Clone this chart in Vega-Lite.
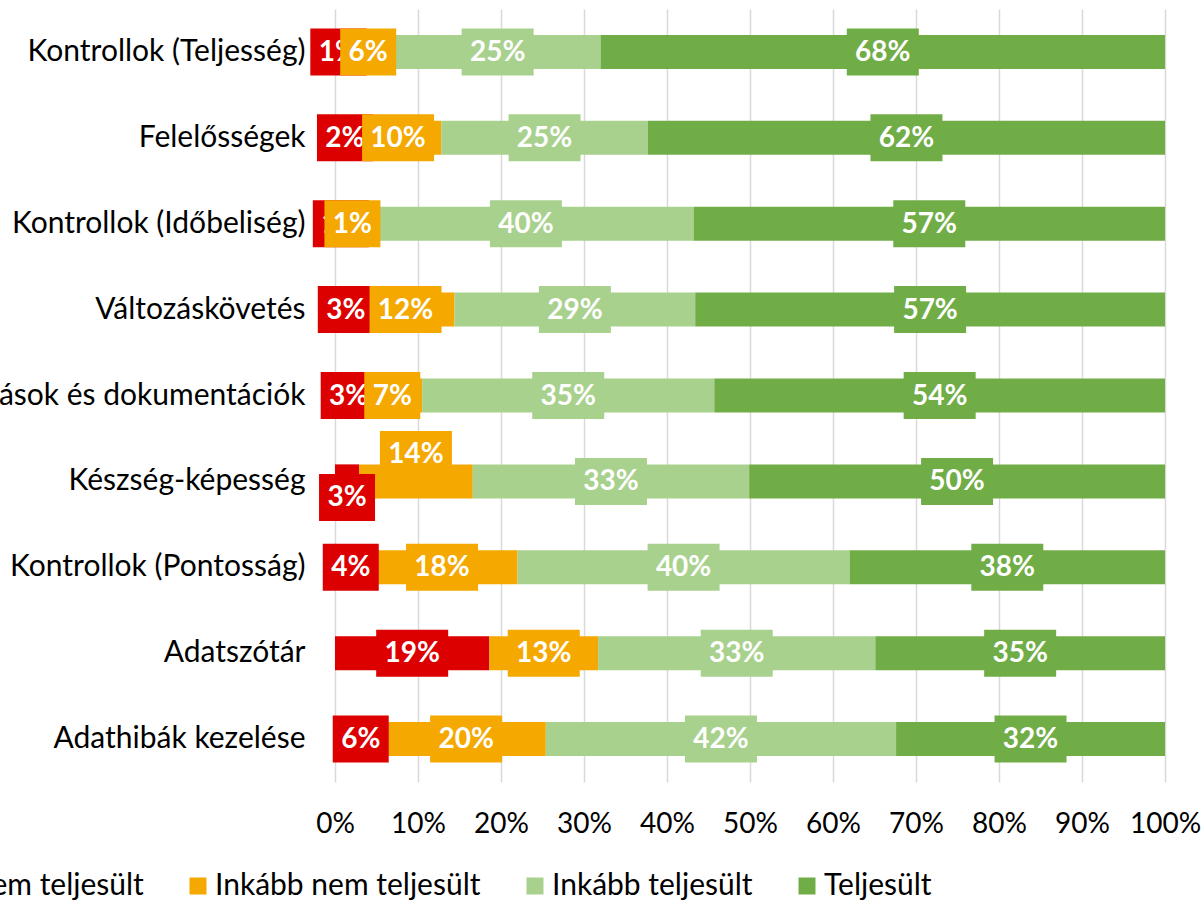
{
  "$schema": "https://vega.github.io/schema/vega-lite/v6.json",
  "width": 830,
  "height": 773,
  "autosize": {"type": "none"},
  "padding": {"left": 335, "top": 9, "right": 39, "bottom": 119},
  "config": {"view": {"stroke": null}, "font": "Lato"},
  "data": {
    "values": [
      {"cat": "Kontrollok (Teljesség)", "series": "Nem teljesült", "value": 0.8, "label": "1%"},
      {"cat": "Kontrollok (Teljesség)", "series": "Inkább nem teljesült", "value": 6.4, "label": "6%"},
      {"cat": "Kontrollok (Teljesség)", "series": "Inkább teljesült", "value": 24.8, "label": "25%"},
      {"cat": "Kontrollok (Teljesség)", "series": "Teljesült", "value": 68.0, "label": "68%"},
      {"cat": "Felelősségek", "series": "Nem teljesült", "value": 2.4, "label": "2%"},
      {"cat": "Felelősségek", "series": "Inkább nem teljesült", "value": 10.4, "label": "10%"},
      {"cat": "Felelősségek", "series": "Inkább teljesült", "value": 24.9, "label": "25%"},
      {"cat": "Felelősségek", "series": "Teljesült", "value": 62.3, "label": "62%"},
      {"cat": "Kontrollok (Időbeliség)", "series": "Nem teljesült", "value": 1.4, "label": "1%"},
      {"cat": "Kontrollok (Időbeliség)", "series": "Inkább nem teljesült", "value": 1.4, "label": "1%"},
      {"cat": "Kontrollok (Időbeliség)", "series": "Inkább teljesült", "value": 40.4, "label": "40%"},
      {"cat": "Kontrollok (Időbeliség)", "series": "Teljesült", "value": 56.8, "label": "57%"},
      {"cat": "Változáskövetés", "series": "Nem teljesült", "value": 2.6, "label": "3%"},
      {"cat": "Változáskövetés", "series": "Inkább nem teljesült", "value": 11.8, "label": "12%"},
      {"cat": "Változáskövetés", "series": "Inkább teljesült", "value": 29.0, "label": "29%"},
      {"cat": "Változáskövetés", "series": "Teljesült", "value": 56.6, "label": "57%"},
      {"cat": "Utasítások és dokumentációk", "series": "Nem teljesült", "value": 3.3, "label": "3%"},
      {"cat": "Utasítások és dokumentációk", "series": "Inkább nem teljesült", "value": 7.2, "label": "7%"},
      {"cat": "Utasítások és dokumentációk", "series": "Inkább teljesült", "value": 35.2, "label": "35%"},
      {"cat": "Utasítások és dokumentációk", "series": "Teljesült", "value": 54.3, "label": "54%"},
      {"cat": "Készség-képesség", "series": "Nem teljesült", "value": 2.9, "label": "3%"},
      {"cat": "Készség-képesség", "series": "Inkább nem teljesült", "value": 13.7, "label": "14%"},
      {"cat": "Készség-képesség", "series": "Inkább teljesült", "value": 33.3, "label": "33%"},
      {"cat": "Készség-képesség", "series": "Teljesült", "value": 50.1, "label": "50%"},
      {"cat": "Kontrollok (Pontosság)", "series": "Nem teljesült", "value": 3.8, "label": "4%"},
      {"cat": "Kontrollok (Pontosság)", "series": "Inkább nem teljesült", "value": 18.2, "label": "18%"},
      {"cat": "Kontrollok (Pontosság)", "series": "Inkább teljesült", "value": 40.0, "label": "40%"},
      {"cat": "Kontrollok (Pontosság)", "series": "Teljesült", "value": 38.0, "label": "38%"},
      {"cat": "Adatszótár", "series": "Nem teljesült", "value": 18.6, "label": "19%"},
      {"cat": "Adatszótár", "series": "Inkább nem teljesült", "value": 13.1, "label": "13%"},
      {"cat": "Adatszótár", "series": "Inkább teljesült", "value": 33.4, "label": "33%"},
      {"cat": "Adatszótár", "series": "Teljesült", "value": 34.9, "label": "35%"},
      {"cat": "Adathibák kezelése", "series": "Nem teljesült", "value": 6.2, "label": "6%"},
      {"cat": "Adathibák kezelése", "series": "Inkább nem teljesült", "value": 19.2, "label": "20%"},
      {"cat": "Adathibák kezelése", "series": "Inkább teljesült", "value": 42.2, "label": "42%"},
      {"cat": "Adathibák kezelése", "series": "Teljesült", "value": 32.4, "label": "32%"}
    ]
  },
  "transform": [
    {"calculate": "indexof(['Nem teljesült','Inkább nem teljesült','Inkább teljesült','Teljesült'], datum.series)", "as": "ord"},
    {"stack": "value", "groupby": ["cat"], "sort": [{"field": "ord", "order": "ascending"}], "offset": "normalize", "as": ["x0", "x1"]},
    {"calculate": "(datum.x0 + datum.x1) / 2", "as": "mid"}
  ],
  "encoding": {
    "y": {
      "field": "cat",
      "type": "nominal",
      "sort": ["Kontrollok (Teljesség)", "Felelősségek", "Kontrollok (Időbeliség)", "Változáskövetés", "Utasítások és dokumentációk", "Készség-képesség", "Kontrollok (Pontosság)", "Adatszótár", "Adathibák kezelése"],
      "scale": {"type": "band", "paddingInner": 0.604, "paddingOuter": 0.302},
      "axis": {"title": null, "ticks": false, "domain": false, "labelFontSize": 30, "labelColor": "#000000", "labelPadding": 30, "labelLimit": 600}
    }
  },
  "layer": [
    {
      "mark": {"type": "bar"},
      "encoding": {
        "x": {
          "field": "x0", "type": "quantitative",
          "scale": {"domain": [0, 1], "nice": false},
          "axis": {"title": null, "values": [0, 0.1, 0.2, 0.3, 0.4, 0.5, 0.6, 0.7, 0.8, 0.9, 1], "format": ".0%", "grid": true, "gridColor": "#D9D9D9", "gridWidth": 1.5, "domain": false, "ticks": false, "labelFontSize": 28, "labelColor": "#000000", "labelPadding": 28, "labelOverlap": false, "labelFlush": false}
        },
        "x2": {"field": "x1"},
        "color": {
          "field": "series", "type": "nominal",
          "scale": {"domain": ["Nem teljesült", "Inkább nem teljesült", "Inkább teljesült", "Teljesült"], "range": ["#DC0000", "#F5A800", "#A9D18E", "#70AD47"]},
          "legend": {"title": null, "orient": "none", "direction": "horizontal", "legendX": -398, "legendY": 862, "symbolType": "square", "symbolSize": 289, "symbolStrokeWidth": 0, "labelFontSize": 30, "labelColor": "#000000", "labelLimit": 500, "labelOffset": 2, "columnPadding": 39, "padding": 0}
        }
      }
    },
    {
      "transform": [{"filter": "datum.series === 'Nem teljesült'"}],
      "mark": {"type": "point", "filled": true, "opacity": 1, "strokeWidth": 0, "yOffset": {"expr": "datum.cat === 'Készség-képesség' ? 16 : 0"}},
      "encoding": {
        "x": {"field": "mid", "type": "quantitative"},
        "fill": {"field": "series", "type": "nominal", "scale": {"domain": ["Nem teljesült", "Inkább nem teljesült", "Inkább teljesült", "Teljesült"], "range": ["#DC0000", "#F5A800", "#A9D18E", "#70AD47"]}, "legend": null},
        "shape": {"condition": {"test": "length(datum.label) > 2", "value": "M-1,-0.653H1V0.653H-1Z"}, "value": "M-1,-0.839H1V0.839H-1Z"},
        "size": {"condition": {"test": "length(datum.label) > 2", "value": 5184}, "value": 3136}
      }
    },
    {
      "transform": [{"filter": "datum.series === 'Nem teljesült'"}],
      "mark": {"type": "text", "color": "white", "fontWeight": "bold", "fontSize": 28, "baseline": "middle", "align": "center", "dy": {"expr": "datum.cat === 'Készség-képesség' ? 17 : 1"}},
      "encoding": {
        "x": {"field": "mid", "type": "quantitative"},
        "text": {"field": "label"}
      }
    },
    {
      "transform": [{"filter": "datum.series !== 'Nem teljesült'"}],
      "mark": {"type": "point", "filled": true, "opacity": 1, "strokeWidth": 0, "yOffset": {"expr": "(datum.cat === 'Készség-képesség' && datum.series === 'Inkább nem teljesült') ? -27 : 0"}},
      "encoding": {
        "x": {"field": "mid", "type": "quantitative"},
        "fill": {"field": "series", "type": "nominal", "scale": {"domain": ["Nem teljesült", "Inkább nem teljesült", "Inkább teljesült", "Teljesült"], "range": ["#DC0000", "#F5A800", "#A9D18E", "#70AD47"]}, "legend": null},
        "shape": {"condition": {"test": "length(datum.label) > 2", "value": "M-1,-0.653H1V0.653H-1Z"}, "value": "M-1,-0.839H1V0.839H-1Z"},
        "size": {"condition": {"test": "length(datum.label) > 2", "value": 5184}, "value": 3136}
      }
    },
    {
      "transform": [{"filter": "datum.series !== 'Nem teljesült'"}],
      "mark": {"type": "text", "color": "white", "fontWeight": "bold", "fontSize": 28, "baseline": "middle", "align": "center", "dy": {"expr": "(datum.cat === 'Készség-képesség' && datum.series === 'Inkább nem teljesült') ? -26 : 1"}},
      "encoding": {
        "x": {"field": "mid", "type": "quantitative"},
        "text": {"field": "label"}
      }
    }
  ]
}
